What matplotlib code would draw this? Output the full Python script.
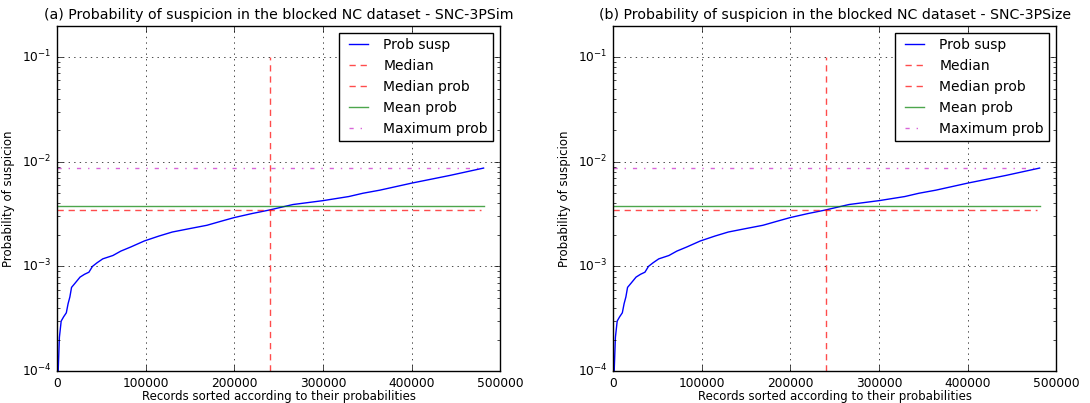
import matplotlib
matplotlib.use("Agg")
import matplotlib.pyplot as plt

plt.style.use("classic")
plt.rcParams["mathtext.fontset"] = "dejavusans"
plt.rcParams["mathtext.default"] = "regular"
plt.rcParams["lines.dashed_pattern"] = [4.5, 3.5]

# records (sorted) and their probability of suspicion
records = [0, 1500, 2700, 4700, 7500, 10500, 12500, 14500, 16400, 20300, 26000,
           31000, 36000, 40000, 45000, 51600, 63000, 72000, 83000, 98500,
           115000, 130000, 150000, 169000, 185000, 200000, 220000, 239000,
           266000, 300000, 329000, 345000, 364000, 400000, 443000, 481000]
prob_susp = [3e-5, 1.1e-4, 2.1e-4, 3.0e-4, 3.3e-4, 3.6e-4, 4.4e-4, 5.1e-4,
             6.3e-4, 6.9e-4, 7.9e-4, 8.4e-4, 8.8e-4, 1.0e-3, 1.08e-3, 1.18e-3,
             1.27e-3, 1.4e-3, 1.53e-3, 1.75e-3, 1.95e-3, 2.13e-3, 2.3e-3,
             2.47e-3, 2.7e-3, 2.93e-3, 3.2e-3, 3.45e-3, 3.9e-3, 4.25e-3,
             4.65e-3, 5.0e-3, 5.35e-3, 6.25e-3, 7.4e-3, 8.7e-3]

median_record = 240000
median_prob = 3.47e-3
mean_prob = 3.75e-3
max_prob = 8.8e-3
n_records = 481000

titles = ["(a) Probability of suspicion in the blocked NC dataset - SNC-3PSim",
          "(b) Probability of suspicion in the blocked NC dataset - SNC-3PSize"]

fig = plt.figure(figsize=(10.9, 4.03), facecolor="white")
lefts = [0.0523, 0.5624]

for left, title in zip(lefts, titles):
    ax = fig.add_axes([left, 0.0794, 0.4068, 0.857])
    ax.plot(records, prob_susp, color="blue", label="Prob susp")
    ax.plot([median_record, median_record], [1e-4, 1e-1], "r--", alpha=0.7,
            label="Median")
    ax.plot([0, n_records - 3000], [median_prob, median_prob], "r--", alpha=0.7,
            label="Median prob")
    ax.plot([0, n_records], [mean_prob, mean_prob], color="green", alpha=0.7,
            label="Mean prob")
    ax.plot([0, n_records], [max_prob, max_prob], "m-.", alpha=0.6,
            label="Maximum prob")
    ax.set_yscale("log")
    ax.set_xlim(0, 500000)
    ax.set_ylim(1e-4, 0.2)
    ax.grid(True)
    ax.tick_params(labelsize=8.8)
    ax.set_title(title, fontsize=10.2)
    ax.set_xlabel("Records sorted according to their probabilities", fontsize=8.5,
                  labelpad=0)
    ax.set_ylabel("Probability of suspicion", fontsize=8.5)
    ax.legend(loc="upper right", fontsize=10, numpoints=2)

fig.savefig("out.png", dpi=100, facecolor="white")
